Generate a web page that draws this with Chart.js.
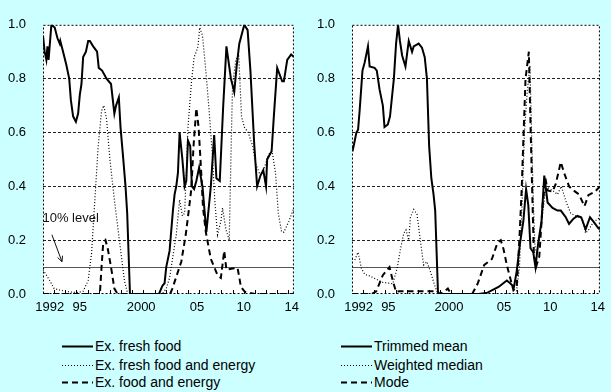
<!DOCTYPE html>
<html>
<head>
<meta charset="utf-8">
<script src="https://cdn.jsdelivr.net/npm/chart.js@4.4.0/dist/chart.umd.min.js"></script>
<style>
  body { margin: 0; background: #ccffff; width: 611px; height: 392px; overflow: hidden; position: relative;
         font-family: "Liberation Sans", Arial, sans-serif; }
  canvas { position: absolute; top: 0; }
  #cLeft { left: 0; }
  #cRight { left: 305px; }
  .leg { position: absolute; font-size: 14px; line-height: 18px; color: #000; white-space: nowrap; }
  .leg svg { position: absolute; top: 0; }
</style>
</head>
<body>
<canvas id="cLeft" width="305" height="320"></canvas>
<canvas id="cRight" width="306" height="320"></canvas>
<div id="legLeft"></div>
<div id="legRight"></div>
<script>
// Axes
const X_MIN = 1992, X_MAX = 2014.5;
const xTickYears = [1992.6, 1995.3, 2000.8, 2005.8, 2010.0, 2014.3];
const xTickLabels = ['1992', '95', '2000', '05', '10', '14'];
const yTickValues = [0, 0.1, 0.2, 0.4, 0.6, 0.8, 1.0];
const TEN_PCT = 0.1;

// Left panel : core CPI measures
const leftNames = ['Ex. fresh food', 'Ex. fresh food and energy', 'Ex. food and energy'];

const exFreshYears = [1992.0, 1992.15, 1992.3, 1992.4, 1992.5, 1992.75, 1993.05, 1993.3, 1993.5, 1993.55,
  1993.8, 1994.1, 1994.35, 1994.5, 1994.7, 1994.95, 1995.15, 1995.3, 1995.45, 1995.6,
  1995.85, 1996.05, 1996.2, 1996.5, 1996.85, 1997.0, 1997.3, 1997.7, 1998.1, 1998.4,
  1998.55, 1998.8, 1998.95, 1999.2, 1999.4, 1999.55, 1999.8, 2002.4, 2002.7, 2002.9,
  2003.05, 2003.35, 2003.65, 2003.8, 2003.95, 2004.1, 2004.25, 2004.5, 2004.7, 2004.85,
  2005.0, 2005.2, 2005.35, 2005.55, 2005.75, 2006.0, 2006.3, 2006.65, 2007.05, 2007.35,
  2007.55, 2007.85, 2008.15, 2008.45, 2008.85, 2009.15, 2009.35, 2009.6, 2010.05, 2010.35,
  2010.6, 2010.95, 2011.2, 2011.5, 2011.75, 2012.0, 2012.1, 2012.5, 2012.7, 2013.0,
  2013.45, 2013.6, 2013.9, 2014.25, 2014.5];
const exFreshVals = [0.96, 0.90, 0.87, 0.92, 0.87, 1.00, 0.99, 0.95, 0.93, 0.94,
  0.90, 0.85, 0.80, 0.72, 0.66, 0.64, 0.67, 0.74, 0.78, 0.88,
  0.90, 0.94, 0.94, 0.92, 0.90, 0.84, 0.83, 0.80, 0.78, 0.67,
  0.70, 0.73, 0.62, 0.50, 0.40, 0.30, 0.00, 0.00, 0.03, 0.04,
  0.10, 0.16, 0.31, 0.37, 0.40, 0.45, 0.60, 0.50, 0.40, 0.42,
  0.57, 0.55, 0.40, 0.39, 0.42, 0.47, 0.40, 0.23, 0.40, 0.59,
  0.43, 0.42, 0.69, 0.92, 0.80, 0.75, 0.84, 0.93, 1.00, 0.98,
  0.83, 0.55, 0.40, 0.44, 0.46, 0.40, 0.50, 0.53, 0.66, 0.84,
  0.79, 0.79, 0.87, 0.89, 0.88];

const exFreshEnergyYears = [1992.0, 1992.3, 1992.6, 1993.0, 1993.5, 1994.0, 1995.0, 1995.6, 1996.05, 1996.35,
  1996.65, 1996.95, 1997.25, 1997.45, 1997.7, 1998.0, 1998.4, 1998.85, 1999.3, 1999.6,
  2002.7, 2003.05, 2003.35, 2003.65, 2003.95, 2004.25, 2004.5, 2004.7, 2004.85, 2005.0,
  2005.3, 2005.55, 2005.75, 2005.9, 2006.05, 2006.3, 2006.6, 2006.9, 2007.2, 2007.4,
  2007.65, 2007.95, 2008.1, 2008.4, 2008.7, 2008.9, 2009.0, 2009.3, 2009.55, 2009.8,
  2010.05, 2010.4, 2010.8, 2011.1, 2011.4, 2011.7, 2012.25, 2012.55, 2012.85, 2013.1,
  2013.4, 2013.6, 2014.05, 2014.5];
const exFreshEnergyVals = [0.09, 0.07, 0.05, 0.02, 0.015, 0.01, 0.005, 0.01, 0.05, 0.15,
  0.35, 0.55, 0.68, 0.70, 0.65, 0.50, 0.35, 0.20, 0.05, 0.00,
  0.00, 0.02, 0.06, 0.14, 0.22, 0.35, 0.29, 0.30, 0.45, 0.62,
  0.78, 0.88, 0.90, 0.92, 0.99, 0.96, 0.83, 0.68, 0.51, 0.35,
  0.22, 0.27, 0.32, 0.24, 0.20, 0.60, 0.78, 0.87, 0.89, 0.66,
  0.62, 0.60, 0.55, 0.48, 0.45, 0.45, 0.52, 0.53, 0.45, 0.30,
  0.23, 0.23, 0.27, 0.32];

const exFoodEnergyYears = [1992.0, 1997.1, 1997.25, 1997.4, 1997.6, 1997.8, 1998.1, 1998.4, 1998.7, 2003.4,
  2003.6, 2004.0, 2004.4, 2004.8, 2005.1, 2005.3, 2005.5, 2005.75, 2005.95, 2006.15,
  2006.35, 2006.6, 2007.05, 2007.65, 2007.95, 2008.25, 2008.45, 2009.0, 2009.45, 2009.75,
  2010.1, 2011.0, 2014.5];
const exFoodEnergyVals = [0.0, 0.0, 0.10, 0.19, 0.20, 0.17, 0.10, 0.02, 0.0, 0.0,
  0.02, 0.07, 0.12, 0.22, 0.32, 0.39, 0.55, 0.69, 0.62, 0.48,
  0.32, 0.23, 0.13, 0.07, 0.06, 0.16, 0.09, 0.095, 0.097, 0.026,
  0.008, 0.0, 0.0];

// Right panel : statistical measures
const rightNames = ['Trimmed mean', 'Weighted median', 'Mode'];

const trimmedYears = [1992.0, 1992.1, 1992.4, 1992.55, 1992.7, 1992.95, 1993.15, 1993.3, 1993.45, 1993.6,
  1994.05, 1994.25, 1994.5, 1994.8, 1994.95, 1995.25, 1995.45, 1995.8, 1996.0, 1996.18,
  1996.35, 1996.55, 1996.85, 1997.15, 1997.45, 1997.6, 1998.05, 1998.35, 1998.6, 1998.8,
  1999.0, 1999.2, 1999.4, 1999.55, 1999.8, 1999.9, 2003.5, 2004.3, 2005.3, 2006.05,
  2006.35, 2006.7, 2006.95, 2007.25, 2007.55, 2007.8, 2008.0, 2008.2, 2008.45, 2008.65,
  2008.9, 2009.2, 2009.45, 2009.75, 2010.2, 2010.65, 2010.95, 2011.4, 2011.7, 2012.1,
  2012.45, 2012.8, 2013.2, 2013.6, 2013.9, 2014.35, 2014.5];
const trimmedVals = [0.55, 0.54, 0.60, 0.61, 0.685, 0.83, 0.86, 0.89, 0.92, 0.845,
  0.84, 0.83, 0.76, 0.70, 0.62, 0.63, 0.66, 0.80, 0.93, 1.00,
  0.94, 0.886, 0.845, 0.94, 0.90, 0.92, 0.93, 0.915, 0.88, 0.80,
  0.55, 0.43, 0.37, 0.31, 0.01, 0.0, 0.0, 0.005, 0.026, 0.05,
  0.04, 0.026, 0.085, 0.19, 0.27, 0.39, 0.33, 0.17, 0.155, 0.10,
  0.19, 0.27, 0.44, 0.34, 0.32, 0.31, 0.31, 0.285, 0.26, 0.28,
  0.29, 0.285, 0.24, 0.285, 0.27, 0.245, 0.24];

const medianYears = [1992.0, 1992.25, 1992.55, 1992.85, 1993.15, 1993.6, 1994.2, 1994.8, 1995.4, 1995.7,
  1996.1, 1996.4, 1996.7, 1996.9, 1997.15, 1997.3, 1997.6, 1997.9, 1998.2, 1998.5,
  1998.8, 1999.1, 1999.55, 1999.8, 2006.9, 2007.2, 2007.45, 2007.65, 2007.9, 2008.15,
  2008.3, 2008.45, 2008.6, 2008.75, 2009.0, 2009.3, 2009.6, 2010.35, 2010.65, 2011.0,
  2011.45, 2011.85, 2012.3, 2012.9, 2013.2, 2013.5, 2013.9, 2014.35, 2014.5];
const medianVals = [0.13, 0.126, 0.155, 0.096, 0.073, 0.067, 0.055, 0.043, 0.04, 0.038,
  0.096, 0.167, 0.226, 0.238, 0.20, 0.285, 0.314, 0.297, 0.20, 0.108,
  0.12, 0.085, 0.026, 0.0, 0.0, 0.10, 0.35, 0.60, 0.75, 0.85,
  0.60, 0.35, 0.18, 0.15, 0.20, 0.30, 0.40, 0.38, 0.37, 0.40,
  0.34, 0.30, 0.29, 0.28, 0.226, 0.24, 0.267, 0.28, 0.28];

const modeYears = [1992.0, 1993.8, 1994.2, 1994.8, 1995.4, 1995.7, 1996.0, 1996.3, 1999.5, 2000.0,
  2000.4, 2000.7, 2001.0, 2002.9, 2003.4, 2004.0, 2004.7, 2005.2, 2005.5, 2005.75,
  2006.05, 2006.35, 2006.65, 2006.95, 2007.2, 2007.4, 2007.55, 2007.75, 2008.05, 2008.2,
  2008.35, 2008.5, 2008.7, 2009.0, 2009.3, 2009.55, 2009.75, 2010.2, 2010.5, 2010.95,
  2011.25, 2011.7, 2012.1, 2012.6, 2013.1, 2013.45, 2014.05, 2014.5];
const modeVals = [0.0, 0.0, 0.01, 0.07, 0.10, 0.05, 0.008, 0.01, 0.01, 0.0,
  0.01, 0.02, 0.0, 0.0, 0.038, 0.108, 0.13, 0.19, 0.20, 0.167,
  0.108, 0.06, 0.014, 0.026, 0.21, 0.39, 0.57, 0.80, 0.90, 0.63,
  0.39, 0.155, 0.10, 0.14, 0.33, 0.43, 0.385, 0.38, 0.41, 0.49,
  0.45, 0.40, 0.385, 0.37, 0.326, 0.367, 0.38, 0.40];

// Styles des lignes : plein, pointillé, tirets
const lineStyles = [
  { width: 2, dash: [] },
  { width: 1.2, dash: [1, 2] },
  { width: 2, dash: [6, 4] }
];

const FONT = '"Liberation Sans", Arial, sans-serif';

// Fond blanc de la zone de tracé
const bgPlugin = {
  id: 'bg',
  beforeDraw(chart) {
    const a = chart.chartArea, c = chart.ctx;
    c.save();
    c.fillStyle = '#ffffff';
    c.fillRect(a.left, a.top, a.right - a.left, a.bottom - a.top);
    c.restore();
  }
};

// Cadre pointillé + graduations annuelles
const framePlugin = {
  id: 'frame',
  beforeDatasetsDraw(chart) {
    const a = chart.chartArea, c = chart.ctx, xs = chart.scales.x;
    c.save();
    c.strokeStyle = '#000';
    c.lineWidth = 1;
    c.setLineDash([2, 2]);
    c.strokeRect(a.left + 0.5, a.top + 0.5, a.right - a.left - 1, a.bottom - a.top - 1);
    c.setLineDash([]);
    c.beginPath();
    for (let yr = Math.ceil(X_MIN) + 1; yr <= X_MAX; yr++) {
      const px = Math.round(xs.getPixelForValue(yr)) + 0.5;
      c.moveTo(px, a.bottom);
      c.lineTo(px, a.bottom - 4);
    }
    c.stroke();
    c.restore();
  }
};

// Annotation "10% level" (panneau de gauche)
const noteLabel = { x: 1991.95, y: 0.28, text: '10% level' };
const noteArrow = { x0: 1992.8, y0: 0.22, x1: 1993.7, y1: 0.12 };
const notePlugin = {
  id: 'note',
  afterDraw(chart) {
    const c = chart.ctx, xs = chart.scales.x, ys = chart.scales.y;
    c.save();
    c.fillStyle = '#111';
    c.font = '13px ' + FONT;
    c.textBaseline = 'middle';
    c.fillText(noteLabel.text, xs.getPixelForValue(noteLabel.x), ys.getPixelForValue(noteLabel.y));
    const x0 = xs.getPixelForValue(noteArrow.x0), y0 = ys.getPixelForValue(noteArrow.y0);
    const x1 = xs.getPixelForValue(noteArrow.x1), y1 = ys.getPixelForValue(noteArrow.y1);
    const ang = Math.atan2(y1 - y0, x1 - x0);
    c.strokeStyle = '#111';
    c.lineWidth = 1;
    c.beginPath();
    c.moveTo(x0, y0);
    c.lineTo(x1, y1);
    c.moveTo(x1 - 6 * Math.cos(ang - 0.45), y1 - 6 * Math.sin(ang - 0.45));
    c.lineTo(x1, y1);
    c.lineTo(x1 - 6 * Math.cos(ang + 0.45), y1 - 6 * Math.sin(ang + 0.45));
    c.stroke();
    c.restore();
  }
};

function toPoints(years, vals) {
  return years.map((yr, i) => ({ x: yr, y: vals[i] }));
}

function makeChart(canvasId, names, series, yAxisWidth, pad, extraPlugins) {
  const datasets = series.map((s, i) => ({
    label: names[i],
    data: toPoints(s[0], s[1]),
    borderColor: '#000',
    borderWidth: lineStyles[i].width,
    borderDash: lineStyles[i].dash,
    pointRadius: 0,
    tension: 0,
    fill: false
  }));
  return new Chart(document.getElementById(canvasId).getContext('2d'), {
    type: 'line',
    data: { datasets },
    options: {
      responsive: false,
      animation: false,
      devicePixelRatio: 1,
      layout: { padding: pad },
      plugins: { legend: { display: false }, tooltip: { enabled: false } },
      scales: {
        x: {
          type: 'linear',
          min: X_MIN,
          max: X_MAX,
          afterBuildTicks: s => { s.ticks = xTickYears.map(v => ({ value: v })); },
          afterFit: s => { s.height = 26; },
          ticks: {
            autoSkip: false,
            maxRotation: 0,
            padding: 6,
            color: '#000',
            font: { family: FONT, size: 13 },
            callback: (v, i) => xTickLabels[i]
          },
          grid: { display: false, drawTicks: false },
          border: { display: false }
        },
        y: {
          min: 0,
          max: 1,
          afterBuildTicks: s => { s.ticks = yTickValues.map(v => ({ value: v })); },
          afterFit: s => { s.width = yAxisWidth; },
          ticks: {
            autoSkip: false,
            padding: 17,
            color: '#000',
            font: { family: FONT, size: 13 },
            callback: v => (v === TEN_PCT ? '' : v.toFixed(1))
          },
          grid: {
            drawTicks: false,
            lineWidth: 1,
            color: ctx => {
              const v = ctx.tick ? ctx.tick.value : null;
              if (v === TEN_PCT) return '#555';
              if (v === 0 || v === 1.0) return 'rgba(0,0,0,0)';
              return '#222';
            }
          },
          border: {
            display: false,
            dash: ctx => (ctx.tick && ctx.tick.value === TEN_PCT ? [] : [3, 2])
          }
        }
      }
    },
    plugins: [bgPlugin, framePlugin].concat(extraPlugins)
  });
}

makeChart('cLeft', leftNames,
  [[exFreshYears, exFreshVals], [exFreshEnergyYears, exFreshEnergyVals], [exFoodEnergyYears, exFoodEnergyVals]],
  43, { top: 12, right: 10, left: 0, bottom: 0 }, [notePlugin]);

makeChart('cRight', rightNames,
  [[trimmedYears, trimmedVals], [medianYears, medianVals], [modeYears, modeVals]],
  47, { top: 11, right: 6, left: 0, bottom: 0 }, []);

// Légendes (texte HTML)
const legendRows = [346, 365, 382];
function buildLegend(id, names, lineX, textX) {
  const host = document.getElementById(id);
  names.forEach((name, i) => {
    const st = lineStyles[i];
    const div = document.createElement('div');
    div.className = 'leg';
    div.style.left = lineX + 'px';
    div.style.top = (legendRows[i] - 9) + 'px';
    const w = textX - lineX - 2;
    div.innerHTML = '<svg width="' + w + '" height="18"><line x1="0" y1="9.5" x2="' + w + '" y2="9.5" stroke="#000" stroke-width="' +
      (i === 1 ? 1 : 2) + '" stroke-dasharray="' + st.dash.join(' ') + '"/></svg>' +
      '<span style="margin-left:' + (textX - lineX) + 'px">' + name + '</span>';
    host.appendChild(div);
  });
}
buildLegend('legLeft', leftNames, 62, 95);
buildLegend('legRight', rightNames, 341, 374);
</script>
</body>
</html>
